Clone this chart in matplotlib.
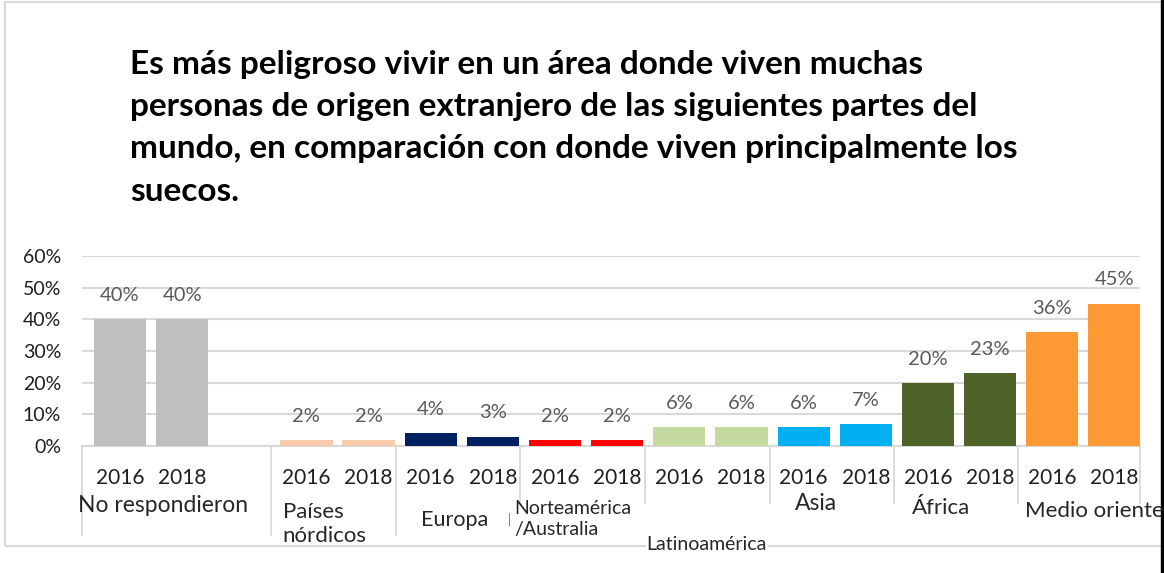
import matplotlib
matplotlib.use('Agg')
import matplotlib.pyplot as plt
from matplotlib.patches import Rectangle
from matplotlib.transforms import blended_transform_factory
import numpy as np

plt.rcParams['font.family'] = ['Lato', 'DejaVu Sans']

# datos
grupos = ['No respondieron', 'Países\nnórdicos', 'Europa', 'Norteamérica\n/Australia',
          'Latinoamérica', 'Asia', 'África', 'Medio oriente']
anios = ['2016', '2018']
val_2016 = [40, 2, 4, 2, 6, 6, 20, 36]
val_2018 = [40, 2, 3, 2, 6, 7, 23, 45]
colores = ['#BFBFBF', '#F8CBAD', '#002060', '#FF0000', '#C5D9A0', '#00B0F0', '#4F6228', '#FF9933']

titulo = ('Es más peligroso vivir en un área donde viven muchas\n'
          'personas de origen extranjero de las siguientes partes del\n'
          'mundo, en comparación con donde viven principalmente los\n'
          'suecos.')

# posiciones de las barras: el primer grupo tiene un hueco vacío
pos, alturas, cols, etiquetas = [], [], [], []
slot = 0
for g in range(len(grupos)):
    for v, a in zip([val_2016[g], val_2018[g]], anios):
        pos.append(slot)
        alturas.append(v)
        cols.append(colores[g])
        etiquetas.append(a)
        slot += 1
    if g == 0:
        slot += 1  # columna vacía

fig = plt.figure(figsize=(11.64, 5.73), dpi=100)
W, H = 1164, 573
ax = fig.add_axes([82 / W, 1 - 446 / H, (1140 - 82) / W, (446 - 256) / H])

ax.bar(pos, alturas, width=0.84, color=cols, zorder=3)
ax.set_xlim(-0.61, 16.41)
ax.set_ylim(0, 60)
ax.set_yticks(np.arange(0, 61, 10))
ax.set_yticklabels([f'{t}%' for t in range(0, 61, 10)], fontsize=14, color='#1f1f1f')
ax.grid(axis='y', color='#D9D9D9', linewidth=1.5, zorder=0)
for s in ['top', 'right', 'left']:
    ax.spines[s].set_visible(False)
ax.spines['bottom'].set_color('#D9D9D9')
ax.spines['bottom'].set_linewidth(1.5)
ax.tick_params(axis='y', length=0, pad=15)
ax.tick_params(axis='x', length=0, pad=16)
ax.set_xticks(pos)
ax.set_xticklabels(etiquetas, fontsize=15, color='#1f1f1f')

for x, v in zip(pos, alturas):
    ax.annotate(f'{v}%', (x, v), xytext=(0, 17), textcoords='offset points',
                ha='center', va='center', fontsize=14.5, color='#595959')

# separadores de grupo
xtr = ax.get_xaxis_transform()
bordes = [-0.61, 2.43, 4.44, 6.43, 8.44, 10.45, 12.45, 14.45, 16.41]
for i, b in enumerate(bordes):
    fondo = -0.468 if i < 3 else -0.30
    ax.plot([b, b], [0, fondo], transform=xtr, color='#D9D9D9', lw=1.3, clip_on=False)

# nombres de grupo
tr = blended_transform_factory(ax.transData, fig.transFigure)
nombres = [
    (grupos[0], 0.69, 506, 'center', 16.5),
    (grupos[1], 2.62, 524, 'left', 16),
    (grupos[2], 5.39, 520, 'center', 15.5),
    (grupos[3], 6.35, 519, 'left', 14),
    (grupos[4], 9.44, 545, 'center', 14),
    (grupos[5], 11.20, 504, 'center', 16.5),
    (grupos[6], 13.21, 508, 'center', 16),
    (grupos[7], 14.56, 511, 'left', 16),
]
for txt, x, ypx, ha, fs in nombres:
    t = ax.text(x, 1 - ypx / H, txt, transform=tr, ha=ha, va='center', fontsize=fs,
                color='#262626', linespacing=1.3, clip_on=False)
    if txt == 'Latinoamérica':
        t.set_bbox(dict(facecolor='white', edgecolor='none', pad=0.5))
ax.text(6.27, 1 - 520 / H, '|', transform=tr, ha='center', va='center', fontsize=9,
        color='#C55A11')

fig.text(130 / W, 1 - 50 / H, titulo, ha='left', va='top', fontsize=24,
         fontweight='bold', color='black', linespacing=1.55)

# marco
fig.patches.append(Rectangle((5 / W, 1 - 546 / H), (1170 - 5) / W, (546 - 2) / H,
                             transform=fig.transFigure, fill=False,
                             edgecolor='#D9D9D9', linewidth=1.5, zorder=-1))
fig.patches.append(Rectangle((1161 / W, 0), 3 / W, 1, transform=fig.transFigure,
                             color='black', zorder=-1))

fig.savefig('out.png', dpi=100)
